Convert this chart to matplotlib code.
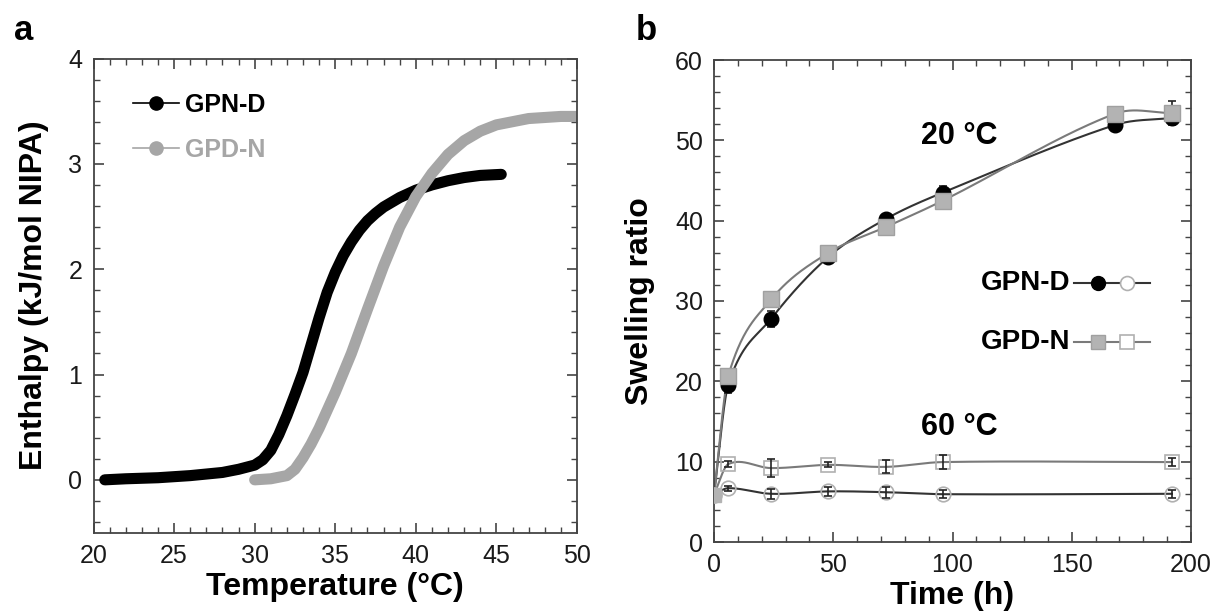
import numpy as np
import matplotlib.pyplot as plt
from matplotlib.ticker import MultipleLocator
from matplotlib.lines import Line2D

plt.rcParams['font.family'] = ['Liberation Sans', 'DejaVu Sans']

# ---- panel a: integrated DSC enthalpy curves ----
t_gpnd = [20.7, 22, 24, 26, 28, 29, 30, 30.5, 31, 31.5, 32, 32.5, 33, 33.5, 34, 34.5,
          35, 35.5, 36, 36.5, 37, 37.5, 38, 39, 40, 41, 42, 43, 44, 45.3]
h_gpnd = [0.0, 0.01, 0.02, 0.04, 0.07, 0.10, 0.14, 0.19, 0.28, 0.43, 0.61, 0.81, 1.02,
          1.28, 1.54, 1.78, 1.97, 2.13, 2.26, 2.37, 2.46, 2.53, 2.59, 2.68, 2.75, 2.80,
          2.84, 2.87, 2.89, 2.90]
t_gpdn = [30, 31, 32, 32.5, 33, 33.5, 34, 34.5, 35, 36, 37, 38, 39, 40, 41, 42, 43, 44,
          45, 46, 47, 48, 49, 50]
h_gpdn = [0.0, 0.01, 0.04, 0.10, 0.21, 0.34, 0.49, 0.66, 0.83, 1.20, 1.62, 2.03, 2.40,
          2.69, 2.91, 3.09, 3.22, 3.31, 3.37, 3.40, 3.43, 3.44, 3.45, 3.45]

# ---- panel b: swelling ratio vs time ----
time_h = [0, 6, 24, 48, 72, 96, 168, 192]
gpnd_20 = [5.9, 19.6, 27.8, 35.5, 40.2, 43.5, 51.9, 52.8]
gpnd_20_err = [0.3, 1.0, 1.0, 0.5, 0.5, 0.8, 0.5, 0.8]
gpdn_20 = [5.9, 20.7, 30.2, 36.0, 39.2, 42.5, 53.3, 53.4]
gpdn_20_err = [0.3, 0.6, 0.6, 0.5, 1.0, 0.5, 0.8, 1.5]

time_60 = [0, 6, 24, 48, 72, 96, 192]
gpnd_60 = [5.9, 6.7, 6.0, 6.3, 6.2, 5.95, 6.0]
gpnd_60_err = [0.2, 0.3, 0.6, 0.6, 0.7, 0.5, 0.5]
gpdn_60 = [5.9, 9.7, 9.2, 9.6, 9.35, 9.95, 9.95]
gpdn_60_err = [0.2, 0.4, 1.1, 0.3, 0.8, 0.9, 0.5]


def smooth(x, y, n=60):
    # Catmull-Rom style Hermite curve through the points, for the connecting line only
    x = np.asarray(x, float)
    y = np.asarray(y, float)
    m = np.empty_like(y)
    m[1:-1] = (y[2:] - y[:-2]) / (x[2:] - x[:-2])
    m[0] = (y[1] - y[0]) / (x[1] - x[0])
    m[-1] = (y[-1] - y[-2]) / (x[-1] - x[-2])
    xs_all, ys_all = [], []
    for i in range(len(x) - 1):
        h = x[i + 1] - x[i]
        t = np.linspace(0, 1, n)
        h00 = 2 * t**3 - 3 * t**2 + 1
        h10 = t**3 - 2 * t**2 + t
        h01 = -2 * t**3 + 3 * t**2
        h11 = t**3 - t**2
        xs_all.append(x[i] + t * h)
        ys_all.append(h00 * y[i] + h10 * h * m[i] + h01 * y[i + 1] + h11 * h * m[i + 1])
    return np.concatenate(xs_all), np.concatenate(ys_all)


fig = plt.figure(figsize=(12.18, 6.12), dpi=100)
axa = fig.add_axes([93.5 / 1218, 1 - 532.5 / 612, 483.5 / 1218, 474 / 612])
axb = fig.add_axes([714 / 1218, 1 - 542 / 612, 477 / 1218, 482 / 612])

spine_c = '#444444'
for ax in (axa, axb):
    for s in ax.spines.values():
        s.set_color(spine_c)
        s.set_linewidth(1.3)
    ax.tick_params(which='both', direction='in', top=True, right=True,
                   colors=spine_c, labelcolor='#1a1a1a', labelsize=18)
    ax.tick_params(which='major', length=7, width=1.2)
    ax.tick_params(axis='x', which='major', pad=8)
    ax.tick_params(axis='y', which='major', pad=8)
    ax.tick_params(which='minor', length=4, width=1.0)

# panel a
axa.plot(t_gpnd, h_gpnd, color='black', lw=8, solid_capstyle='round')
axa.plot(t_gpdn, h_gpdn, color='#a6a6a6', lw=8, solid_capstyle='round')
axa.set_xlim(20, 50)
axa.set_ylim(-0.5, 4)
axa.xaxis.set_major_locator(MultipleLocator(5))
axa.xaxis.set_minor_locator(MultipleLocator(1))
axa.yaxis.set_major_locator(MultipleLocator(1))
axa.yaxis.set_minor_locator(MultipleLocator(0.2))
axa.set_xlabel('Temperature (°C)', fontsize=23, fontweight='bold', labelpad=3)
axa.set_ylabel('Enthalpy (kJ/mol NIPA)', fontsize=23, fontweight='bold', labelpad=14)

h_a = [Line2D([], [], color='black', lw=1.2, marker='o', ms=9.5),
       Line2D([], [], color='#a6a6a6', lw=1.2, marker='o', ms=9.5)]
leg = axa.legend(h_a, ['GPN-D', 'GPD-N'], loc='upper left', bbox_to_anchor=(0.035, 0.975),
                 frameon=False, handlelength=1.85, handletextpad=0.25, labelspacing=0.85,
                 prop={'size': 18, 'weight': 'bold'})
leg.get_texts()[1].set_color('#a6a6a6')

# panel b
c_dark, c_gray = '#333333', '#7a7a7a'
sq_face = '#b3b3b3'

xs, ys = smooth(time_h, gpnd_20)
axb.plot(xs, ys, color=c_dark, lw=1.5, zorder=2)
xs, ys = smooth(time_h, gpdn_20)
axb.plot(xs, ys, color=c_gray, lw=1.5, zorder=2)
xs, ys = smooth(time_60, gpnd_60)
axb.plot(xs, ys, color=c_dark, lw=1.5, zorder=2)
xs, ys = smooth(time_60, gpdn_60)
axb.plot(xs, ys, color=c_gray, lw=1.5, zorder=2)

eb = dict(fmt='none', ecolor='#222222', elinewidth=1.2, capsize=3, capthick=1.2, zorder=4)
axb.errorbar(time_h, gpnd_20, yerr=gpnd_20_err, **eb)
axb.errorbar(time_h, gpdn_20, yerr=gpdn_20_err, **eb)
axb.errorbar(time_60, gpnd_60, yerr=gpnd_60_err, **eb)
axb.errorbar(time_60, gpdn_60, yerr=gpdn_60_err, **eb)

axb.plot(time_60[1:], gpnd_60[1:], 'o', ms=10.5, mfc='none', mec='#b0b0b0', mew=1.2, zorder=3)
axb.plot(time_60[1:], gpdn_60[1:], 's', ms=10.5, mfc='none', mec='#b0b0b0', mew=1.2, zorder=3)
axb.plot(time_h[1:], gpnd_20[1:], 'o', ms=10.5, color='black', zorder=5)
axb.plot(time_h[1:], gpdn_20[1:], 's', ms=11, color=sq_face, mec='#a0a0a0', zorder=6)
axb.plot(time_h[:1], gpnd_20[:1], 'o', ms=11, color=sq_face, zorder=6)
axb.plot(time_h[:1], gpdn_20[:1], 's', ms=10.5, color=sq_face, zorder=6)

axb.set_xlim(0, 200)
axb.set_ylim(0, 60)
axb.xaxis.set_major_locator(MultipleLocator(50))
axb.xaxis.set_minor_locator(MultipleLocator(10))
axb.yaxis.set_major_locator(MultipleLocator(10))
axb.yaxis.set_minor_locator(MultipleLocator(2))
axb.set_xlabel('Time (h)', fontsize=23, fontweight='bold', labelpad=3)
axb.set_ylabel('Swelling ratio', fontsize=23, fontweight='bold', labelpad=14)

axb.text(103, 50.5, '20 °C', fontsize=22, fontweight='bold', ha='center', va='center')
axb.text(103, 14.3, '60 °C', fontsize=22, fontweight='bold', ha='center', va='center')

# legend drawn as text plus a line with a filled (20 °C) and an open (60 °C) marker
for yv, lab, mk, f1, c in [(32.2, 'GPN-D', 'o', 'black', c_dark),
                           (24.9, 'GPD-N', 's', sq_face, c_gray)]:
    axb.text(112, yv, lab, fontsize=20, fontweight='bold', ha='left', va='center')
    axb.plot([151, 183], [yv, yv], color=c, lw=1.5)
    axb.plot([161], [yv], mk, ms=10, color=f1, mec=f1 if mk == 'o' else '#a0a0a0')
    axb.plot([173], [yv], mk, ms=10, mfc='white', mec='#b0b0b0', mew=1.2)

fig.text(14 / 1218, 1 - 30 / 612, 'a', fontsize=25, fontweight='bold', va='center')
fig.text(636 / 1218, 1 - 30 / 612, 'b', fontsize=25, fontweight='bold', va='center')

fig.savefig('out.png', dpi=100)
